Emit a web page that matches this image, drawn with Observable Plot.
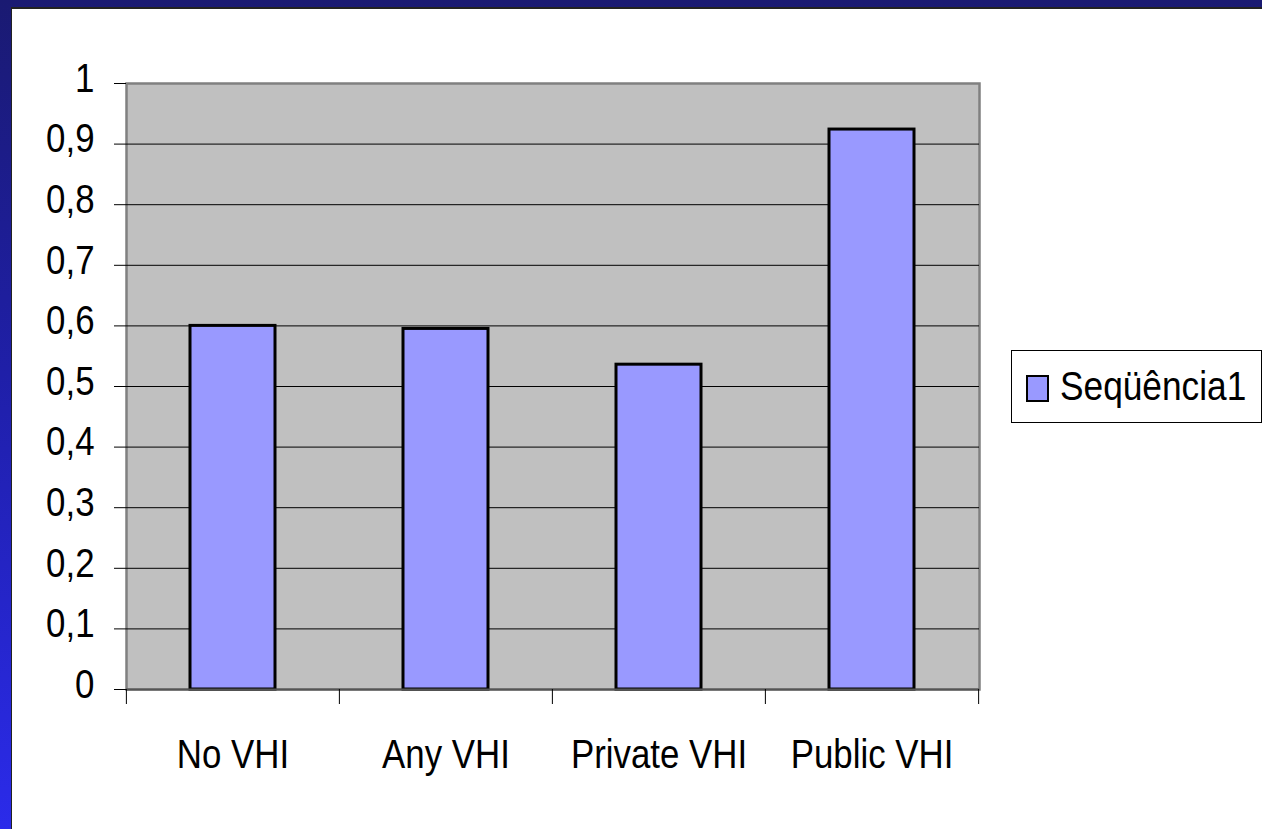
<!DOCTYPE html>
<html>
<head>
<meta charset="utf-8">
<script src="https://cdn.jsdelivr.net/npm/d3@7"></script>
<script src="https://cdn.jsdelivr.net/npm/@observablehq/plot@0.6"></script>
<style>
  html, body { margin: 0; padding: 0; }
  body { width: 1262px; height: 829px; overflow: hidden; position: relative;
         background: linear-gradient(180deg, #1a1a72 0%, #1f1fa8 45%, #2b2bea 100%); }
  #sheet { position: absolute; left: 11px; top: 7px; right: 0; bottom: 0; background: #fff;
           border-left: 1px solid #222; border-top: 2px solid #222; box-sizing: border-box; }
  #chart { position: absolute; left: 0; top: 0; }
  #legend { position: absolute; left: 1011px; top: 350px; width: 251px; height: 73px; box-sizing: border-box;
            border: 1px solid #000; background: #fff; display: flex; align-items: center;
            font-family: "Liberation Sans", Arial, sans-serif; font-size: 41px; color: #000; white-space: nowrap; }
  #legend .sw { flex: 0 0 auto; width: 19px; height: 23px; border: 2px solid #000; background: #9999ff; margin-left: 14px; margin-right: 11px; margin-top: 4px; }
  #legend span { display: inline-block; transform: scaleX(0.86); transform-origin: left center; }
</style>
</head>
<body>
<div id="sheet"></div>
<div id="chart"></div>
<div id="legend"><div class="sw"></div><span id="legendText"></span></div>
<script>
const categories = ["No VHI", "Any VHI", "Private VHI", "Public VHI"];
const values = [0.600, 0.595, 0.536, 0.924];
const yTicks = [0, 0.1, 0.2, 0.3, 0.4, 0.5, 0.6, 0.7, 0.8, 0.9, 1];
const seriesName = "Seqüência1";

const data = categories.map((c, i) => ({category: c, value: values[i]}));

const W = 1262, H = 829;
const mL = 126, mR = 283, mT = 83, mB = 140;
const step = (W - mL - mR) / categories.length;
const font = '"Liberation Sans", Arial, sans-serif';
const fmt = d => String(d).replace(".", ",");

const chart = Plot.plot({
  width: W, height: H,
  marginLeft: mL, marginRight: mR, marginTop: mT, marginBottom: mB,
  style: {fontFamily: font, fontSize: "41px", color: "#000", background: "transparent", overflow: "visible"},
  x: {domain: categories, paddingInner: 0.6, paddingOuter: 0.3, axis: null, label: null},
  y: {domain: [0, 1], axis: null, label: null},
  marks: [
    Plot.frame({fill: "#c0c0c0", stroke: "#808080", strokeWidth: 2.5}),
    Plot.ruleY(yTicks.filter(t => t > 0 && t < 1), {stroke: "#000", strokeWidth: 1}),
    Plot.barY(data, {x: "category", y: "value", fill: "#9999ff", stroke: "#000", strokeWidth: 3}),
    Plot.ruleX([0], {frameAnchor: "left", stroke: "#000", strokeWidth: 1}),
    Plot.ruleY([0], {stroke: "#555", strokeWidth: 2}),
    Plot.axisY({ticks: yTicks, tickSize: 12, tickPadding: 20, tickFormat: fmt, stroke: "#000", fontSize: 41, fontFamily: font, label: null, textStroke: "none"}),
    Plot.axisY({ticks: yTicks, tickSize: 0, tickFormat: () => "", label: null}),
    Plot.axisX({tickSize: 15, tickFormat: () => "", dx: -step / 2, stroke: "#000", label: null}),
    Plot.axisX({ticks: [categories[categories.length - 1]], tickSize: 15, tickFormat: () => "", dx: step / 2, stroke: "#000", label: null}),
    Plot.axisX({tickSize: 0, tickPadding: 49, fontSize: 41, fontFamily: font, label: null})
  ]
});
document.getElementById("chart").appendChild(chart);
// condense glyphs horizontally (narrow typeface look); lift y labels slightly
chart.querySelectorAll("text").forEach(t => {
  const L = t.getComputedTextLength();
  if (L > 0) {
    t.setAttribute("textLength", (L * 0.85).toFixed(1));
    t.setAttribute("lengthAdjust", "spacingAndGlyphs");
  }
  if (t.getAttribute("text-anchor") === "end" || (t.parentNode && t.parentNode.getAttribute("text-anchor") === "end")) {
    t.setAttribute("dy", "-0.12em");
  }
});
document.getElementById("legendText").textContent = seriesName;
</script>
</body>
</html>
